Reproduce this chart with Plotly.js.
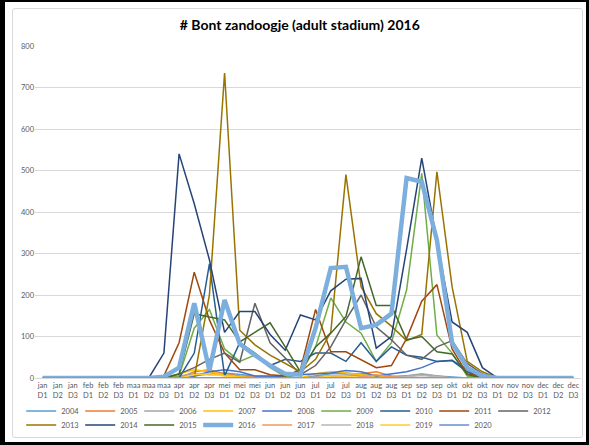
<!DOCTYPE html>
<html>
<head>
<meta charset="utf-8">
<script src="https://cdn.plot.ly/plotly-3.0.1.min.js"></script>
<style>
  html, body { margin: 0; padding: 0; background: #ffffff; }
  #wrap { position: relative; width: 589px; height: 445px; overflow: hidden; }
  #chart { position: absolute; left: 0; top: 0; width: 589px; height: 445px; }
  #frame { position: absolute; left: 0; top: 0; width: 589px; height: 445px; box-sizing: border-box;
           border-left: 5px solid #000; border-top: 2px solid #000; border-right: 3px solid #000; border-bottom: 3px solid #000;
           pointer-events: none; }
  #inner { position: absolute; left: 12px; top: 8px; width: 571px; height: 430px; box-sizing: border-box;
           border: 1px solid #d9d9d9; border-radius: 3px; pointer-events: none; }
</style>
</head>
<body>
<div id="wrap">
  <div id="chart"></div>
  <div id="inner"></div>
  <div id="frame"></div>
</div>
<script>
// ---- data ----
const categories = [
  "jan D1","jan D2","jan D3","feb D1","feb D2","feb D3","maa D1","maa D2","maa D3",
  "apr D1","apr D2","apr D3","mei D1","mei D2","mei D3","jun D1","jun D2","jun D3",
  "jul D1","jul D2","jul D3","aug D1","aug D2","aug D3","sep D1","sep D2","sep D3",
  "okt D1","okt D2","okt D3","nov D1","nov D2","nov D3","dec D1","dec D2","dec D3"
];
const years = ["2004","2005","2006","2007","2008","2009","2010","2011","2012",
               "2013","2014","2015","2016","2017","2018","2019","2020"];

const y2004 = [0,0,0, 0,0,0, 0,0,0, 0,5,10, 12,8,5, 3,0,0, 5,10,12, 8,5,3, 5,8,5, 3,0,0, 0,0,0, 0,0,0];
const y2005 = [0,0,0, 0,0,0, 0,0,0, 0,15,20, 10,5,2, 0,0,0, 0,3,5, 10,15,5, 0,0,0, 0,0,0, 0,0,0, 0,0,0];
const y2006 = [0,0,0, 0,0,0, 0,0,0, 5,10,8, 8,3,0, 0,0,0, 3,5,8, 5,5,3, 5,10,5, 0,0,0, 0,0,0, 0,0,0];
const y2007 = [0,0,0, 0,0,0, 0,0,0, 10,20,15, 8,3,0, 0,0,0, 10,15,12, 8,3,0, 0,0,0, 0,0,0, 0,0,0, 0,0,0];
const y2008 = [0,0,0, 0,0,0, 0,0,0, 0,5,15, 20,15,5, 5,3,8, 10,12,18, 15,5,10, 15,25,40, 43,20,0, 0,0,0, 0,0,0];
const y2009 = [0,0,0, 0,0,0, 0,0,0, 5,120,165, 70,40,55, 25,3,10, 75,193,135, 108,40,85, 212,493,103, 60,5,0, 0,0,0, 0,0,0];
const y2010 = [0,0,0, 0,0,0, 0,0,0, 0,60,275, 5,85,60, 30,45,40, 60,60,40, 85,40,75, 55,50,40, 42,15,0, 0,0,0, 0,0,0];
const y2011 = [0,0,0, 0,0,0, 0,0,5, 85,255,140, 60,20,20, 8,5,20, 165,63,63, 45,25,30, 95,185,225, 70,10,3, 0,0,0, 0,0,0];
const y2012 = [0,0,0, 0,0,0, 0,0,0, 10,25,45, 60,38,180, 85,48,8, 30,75,140, 200,123,92, 55,45,75, 90,35,10, 0,0,0, 0,0,0];
const y2013 = [0,0,0, 0,0,0, 0,0,0, 0,0,200, 735,115,80, 55,35,15, 45,110,490, 220,155,125, 90,105,497, 220,40,15, 0,0,0, 0,0,0];
const y2014 = [0,0,0, 0,0,0, 0,0,60, 540,420,285, 110,160,160, 105,67,152, 140,210,238, 240,72,100, 310,530,330, 135,110,25, 0,0,0, 0,0,0];
const y2015 = [0,0,0, 0,0,0, 0,0,0, 10,155,147, 140,87,110, 133,75,15, 75,108,148, 292,175,175, 92,100,63, 58,8,0, 0,0,0, 0,0,0];
const y2016 = [0,0,0, 0,0,0, 0,0,3, 25,180,18, 188,82,55, 30,10,8, 120,265,268, 120,128,155, 482,473,332, 85,25,5, 0,0,0, 0,0,0];
const y2017 = [0,0,0, 0,0,0, 0,0,0, 0,0,0, 0,0,0, 0,0,0, 0,0,0, 3,8,3, 0,0,0, 0,0,0, 0,0,0, 0,0,0];
const y2018 = [0,0,0, 0,0,0, 0,0,0, 0,0,0, 0,0,0, 0,0,0, 0,0,0, 0,0,0, 3,6,3, 0,0,0, 0,0,0, 0,0,0];
const y2019 = [0,0,0, 0,0,0, 0,0,0, 0,8,10, 5,0,0, 0,0,0, 0,5,5, 0,0,0, 0,0,0, 0,0,0, 0,0,0, 0,0,0];
const y2020 = [0,0,0, 0,0,0, 0,0,0, 0,0,0, 0,0,0, 0,0,0, 0,0,0, 0,0,0, 0,0,0, 0,0,0, 0,0,0, 0,0,0];

const seriesValues = [y2004,y2005,y2006,y2007,y2008,y2009,y2010,y2011,y2012,
                      y2013,y2014,y2015,y2016,y2017,y2018,y2019,y2020];
const colors = ["#5B9BD5","#ED7D31","#A5A5A5","#FFC000","#4472C4","#70AD47","#255E91","#9E480E","#636363",
                "#997300","#264478","#43682B","#7CAFDD","#F1975A","#B7B7B7","#FFCD33","#698ED0"];
const tickText = categories.map(c => c.replace(" ", "<br>"));

const FONT = "Lato, 'Open Sans', sans-serif";

const traces = years.map((yr, i) => ({
  type: "scatter",
  mode: "lines",
  name: yr,
  x: categories,
  y: seriesValues[i],
  legend: i < 9 ? "legend" : "legend2",
  line: { color: colors[i], width: yr === "2016" ? 4.5 : 1.5 },
  hoverinfo: "skip"
}));

const legendBase = {
  orientation: "h",
  xanchor: "left", xref: "container",
  yanchor: "middle", yref: "container",
  font: { family: FONT, size: 7.5, color: "#595959" },
  entrywidth: 14, entrywidthmode: "pixels",
  itemwidth: 30,
  tracegroupgap: 0,
  traceorder: "normal",
  bgcolor: "rgba(0,0,0,0)"
};

const layout = {
  width: 589, height: 445,
  margin: { l: 35, r: 8, t: 46, b: 67 },
  paper_bgcolor: "#ffffff",
  plot_bgcolor: "#ffffff",
  showlegend: true,
  title: {
    text: "# Bont zandoogje (adult stadium) 2016",
    font: { family: FONT, size: 14, color: "#000000", weight: "bold" },
    x: 0.509, xanchor: "center", xref: "container",
    y: 0.943, yanchor: "middle", yref: "container"
  },
  xaxis: {
    type: "category",
    tickmode: "array",
    tickvals: categories,
    ticktext: tickText,
    tickangle: 0,
    tickfont: { family: FONT, size: 7.5, color: "#595959" },
    showgrid: false,
    showline: true, linecolor: "#d9d9d9", linewidth: 1,
    ticks: "", zeroline: false,
    range: [-0.5, 35.5],
    automargin: false,
    fixedrange: true
  },
  yaxis: {
    range: [0, 800],
    dtick: 100,
    tickfont: { family: FONT, size: 7.5, color: "#595959" },
    showgrid: true, gridcolor: "#d9d9d9", gridwidth: 1,
    zeroline: false, showline: false, ticks: "",
    automargin: false,
    fixedrange: true
  },
  legend: Object.assign({}, legendBase, { x: 0.036, y: 1 - 411 / 445 }),
  legend2: Object.assign({}, legendBase, { x: 0.036, y: 1 - 425 / 445 })
};

Plotly.newPlot("chart", traces, layout, { staticPlot: true, displayModeBar: false });
</script>
</body>
</html>
